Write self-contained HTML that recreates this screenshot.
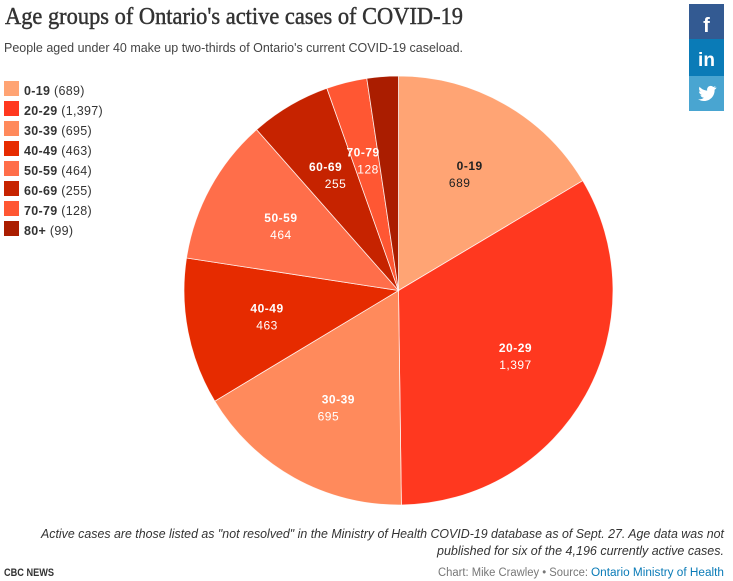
<!DOCTYPE html>
<html lang="en">
<head>
<meta charset="utf-8">
<title>Age groups of Ontario's active cases of COVID-19</title>
<style>
  html, body { margin: 0; padding: 0; background: #fff; }
  body { width: 733px; height: 581px; overflow: hidden; }
  svg { display: block; font-family: "Liberation Sans", sans-serif; }
  .legend-text { font-size: 12.5px; letter-spacing: .3px; fill: #333; }
  .slice-label { font-size: 12px; letter-spacing: .5px; text-anchor: middle; }
</style>
</head>
<body>
<svg id="chart" width="733" height="581" viewBox="0 0 733 581" xmlns="http://www.w3.org/2000/svg">
  <text x="5" y="24" font-family="'Liberation Serif', serif" font-size="24" stroke="#333" stroke-width="0.45" fill="#333" textLength="458" lengthAdjust="spacingAndGlyphs">Age groups of Ontario's active cases of COVID-19</text>
  <text x="4" y="52" font-size="12.5" fill="#444" textLength="459" lengthAdjust="spacingAndGlyphs">People aged under 40 make up two-thirds of Ontario's current COVID-19 caseload.</text>

  <g id="legend"></g>
  <g id="pie"></g>

  <g>
    <rect x="689" y="4" width="35" height="35" fill="#335a92"/>
    <text x="706.5" y="32" text-anchor="middle" font-size="20" font-weight="bold" fill="#fff">f</text>
  </g>
  <g>
    <rect x="689" y="39" width="35" height="37" fill="#0a7bb7"/>
    <text x="706.5" y="66" text-anchor="middle" font-size="19" font-weight="bold" fill="#fff">in</text>
  </g>
  <g>
    <rect x="689" y="76" width="35" height="35" fill="#49a5d1"/>
    <path fill="#fff" d="M716 87.5c-.7.3-1.4.5-2.1.6.8-.5 1.3-1.2 1.6-2-.7.4-1.5.7-2.3.9-1.5-1.6-4-1.4-5.3.2-.8 1-1 2.200-.7 3.400-3-.2-5.700-1.600-7.600-3.900-1 1.700-.5 3.900 1.100 5-.6 0-1.200-.2-1.700-.5 0 1.800 1.300 3.400 3.100 3.800-.6.2-1.200.2-1.700.1.500 1.500 1.900 2.600 3.500 2.600-1.600 1.300-3.700 1.800-5.800 1.600 5.500 3.500 12.300 1.500 15.200-3.800 1-1.800 1.400-3.700 1.300-5.700.8-.5 1.400-1.200 1.900-2z"/>
  </g>

  <text x="41" y="538" font-size="12.5" font-style="italic" fill="#333" textLength="683" lengthAdjust="spacingAndGlyphs">Active cases are those listed as "not resolved" in the Ministry of Health COVID-19 database as of Sept. 27. Age data was not</text>
  <text x="437" y="555" font-size="12.5" font-style="italic" fill="#333" textLength="287" lengthAdjust="spacingAndGlyphs">published for six of the 4,196 currently active cases.</text>
  <text x="4" y="576" font-size="11" font-weight="bold" fill="#333" textLength="50" lengthAdjust="spacingAndGlyphs">CBC NEWS</text>
  <text x="438" y="576" font-size="11.500" fill="#777" textLength="150" lengthAdjust="spacingAndGlyphs">Chart: Mike Crawley • Source:</text>
  <text x="591" y="576" font-size="11.500" fill="#0a7bb7" textLength="133" lengthAdjust="spacingAndGlyphs">Ontario Ministry of Health</text>
</svg>

<script>
const categories = ['0-19', '20-29', '30-39', '40-49', '50-59', '60-69', '70-79', '80+'];
const cases = [689, 1397, 695, 463, 464, 255, 128, 99];
const sliceColors = ['#ffa474', '#ff381f', '#ff8a5c', '#e62b00', '#ff6e4a', '#c62300', '#ff5733', '#aa1d00'];
const labelColors = ['#222', '#fff', '#fff', '#fff', '#fff', '#fff', '#fff', null];

const NS = 'http://www.w3.org/2000/svg';
const CX = 398.5, CY = 290.5, R = 214.5, LABEL_R = 134;

function angleFor(total, running) {
  return running / total * Math.PI * 2;
}
function polar(angle, radius) {
  return [CX + Math.sin(angle) * radius, CY - Math.cos(angle) * radius];
}
function fmt(n) {
  return n.toLocaleString('en-US');
}
function make(tag) {
  return document.createElementNS(NS, tag);
}

const legend = document.getElementById('legend');
const pie = document.getElementById('pie');
const total = cases.reduce((a, b) => a + b, 0);

/* Hand-placed horizontal nudges for the printed labels in the source chart. */
function nudgeFor(category) {
  if (category === '0-19') return [5, -5];
  if (category === '30-39') return [5, -5];
  if (category === '60-69') return [-5, 5];
  if (category === '70-79') return [-3, 2];
  return [0, 0];
}

let running = 0;
const labelLayer = make('g');



categories.forEach((cat, i) => {
  const a0 = angleFor(total, running);
  running += cases[i];
  const a1 = angleFor(total, running);
  const p0 = polar(a0, R);
  const p1 = polar(a1, R);
  const large = a1 - a0 > Math.PI ? 1 : 0;

  const slice = make('path');
  
  
  slice.setAttribute('d', `M${CX} ${CY}L${p0[0]} ${p0[1]}A${R} ${R} 0 ${large} 1 ${p1[0]} ${p1[1]}Z`);
  slice.setAttribute('fill', sliceColors[i]);
  slice.setAttribute('stroke', '#fff');
  slice.setAttribute('stroke-width', '0.8');
  slice.setAttribute('stroke-opacity', '0.85');
  pie.appendChild(slice);

  if (labelColors[i]) {
    const c = polar((a0 + a1) / 2, LABEL_R);
    const nudge = nudgeFor(cat);

    const name = make('text');
    
    
    name.setAttribute('class', 'slice-label');
    name.setAttribute('x', c[0] + nudge[0]);
    name.setAttribute('y', c[1] - 4);
    name.setAttribute('fill', labelColors[i]);
    name.setAttribute('font-weight', 'bold');
    name.textContent = cat;
    labelLayer.appendChild(name);

    const value = make('text');
    
    
    value.setAttribute('class', 'slice-label');
    value.setAttribute('x', c[0] + nudge[1]);
    value.setAttribute('y', c[1] + 13);
    value.setAttribute('fill', labelColors[i]);
    value.textContent = fmt(cases[i]);
    labelLayer.appendChild(value);
  }

  const entry = make('g');
  
  
  const swatch = make('rect');
  swatch.setAttribute('x', 4);
  swatch.setAttribute('y', 81 + i * 20);
  swatch.setAttribute('width', 15);
  swatch.setAttribute('height', 15);
  swatch.setAttribute('fill', sliceColors[i]);
  entry.appendChild(swatch);
  const text = make('text');
  text.setAttribute('class', 'legend-text');
  text.setAttribute('x', 24);
  text.setAttribute('y', 95 + i * 20);
  const bold = make('tspan');
  bold.setAttribute('font-weight', 'bold');
  bold.textContent = cat;
  text.appendChild(bold);
  text.appendChild(document.createTextNode(' (' + fmt(cases[i]) + ')'));
  entry.appendChild(text);
  legend.appendChild(entry);
});
pie.appendChild(labelLayer);
</script>
</body>
</html>
